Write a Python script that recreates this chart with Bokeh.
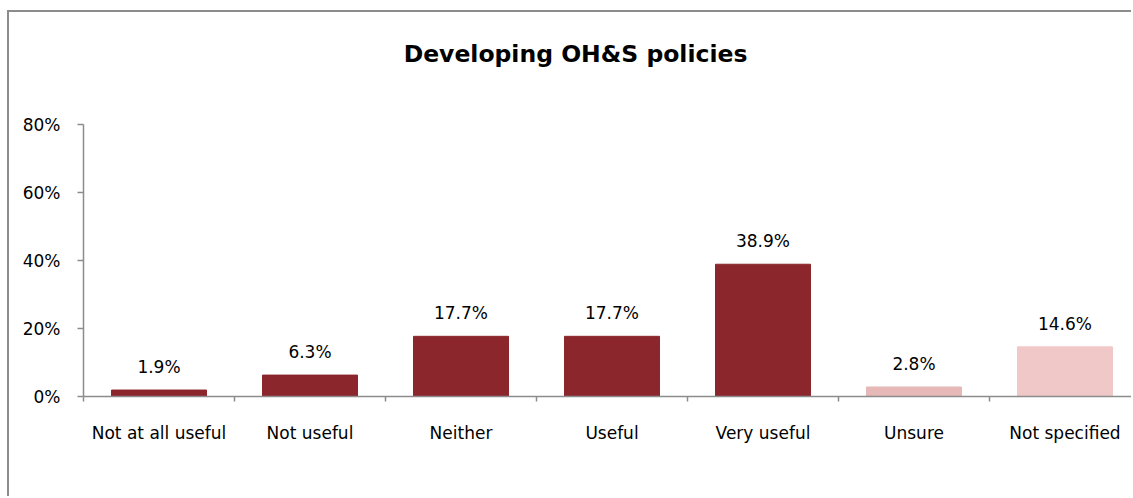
from bokeh.plotting import figure
from bokeh.models import (ColumnDataSource, FixedTicker, LabelSet, Label,
                          Range1d, NumeralTickFormatter)
from bokeh.core.properties import value
from bokeh.embed import file_html
from bokeh.resources import INLINE

# ---- data ----
title = "Developing OH&S policies"
categories = ["Not at all useful", "Not useful", "Neither", "Useful",
              "Very useful", "Unsure", "Not specified"]
values = [1.9, 6.3, 17.7, 17.7, 38.9, 2.8, 14.6]
bar_colors = ["#8B262C", "#8B262C", "#8B262C", "#8B262C", "#8B262C",
              "#E6B9B8", "#F0C8C8"]
y_ticks = [0, 20, 40, 60, 80]

FONT = "DejaVu Sans"
FS = "17px"
OX, OY = 9, 12          # canvas origin on page (after CSS margin + border)
W, H = 1133 - OX, 498 - OY
CAT_PX = 151.0
Y0_PAGE, Y80_PAGE = 396, 124
PX_PER_PCT = (Y0_PAGE - Y80_PAGE) / 80.0
LEFT = 83 - OX
BOTTOM = H - (Y0_PAGE - OY)
FRAME_H = H - BOTTOM
y_end = FRAME_H / PX_PER_PCT

n = len(categories)
centers = [i + 0.5 for i in range(n)]
bounds = list(range(n + 1))
labels = [f"{v:.1f}%" for v in values]

src = ColumnDataSource(dict(x=centers, top=values, color=bar_colors, label=labels))

x_end = (W - LEFT) / CAT_PX
p = figure(width=W, height=H, output_backend="svg", toolbar_location=None,
           x_range=Range1d(0, x_end), y_range=Range1d(0, y_end),
           min_border_left=LEFT, min_border_right=0,
           min_border_top=0, min_border_bottom=BOTTOM)
p.styles = {"margin-left": "7px", "margin-top": "10px",
            "border-left": "2px solid #8C8C8C",
            "border-top": "2px solid #8C8C8C"}
p.xgrid.visible = False
p.ygrid.visible = False
p.outline_line_color = None
p.background_fill_color = "white"
p.border_fill_color = "white"

p.vbar(x="x", top="top", width=95 / CAT_PX, color="color", source=src)

AX = "#8C8C8C"
# x axis
xa = p.xaxis[0]
xa.ticker = FixedTicker(ticks=centers, minor_ticks=bounds)
xa.major_label_overrides = {c: lab for c, lab in zip(centers, categories)}
xa.major_tick_out = 0
xa.major_tick_in = 0
xa.minor_tick_out = 5
xa.minor_tick_in = 0
xa.minor_tick_line_color = AX
xa.minor_tick_line_width = 1.5
xa.axis_line_color = AX
xa.axis_line_width = 1.5
xa.major_label_standoff = 21
xa.major_label_text_font = FONT
xa.major_label_text_font_size = FS
xa.major_label_text_color = "black"

# y axis
ya = p.yaxis[0]
ya.ticker = FixedTicker(ticks=y_ticks)
ya.formatter = NumeralTickFormatter(format="0")
ya.major_label_overrides = {t: f"{t}%" for t in y_ticks}
ya.bounds = (y_ticks[0], y_ticks[-1])
ya.major_tick_out = 6
ya.major_tick_in = 0
ya.minor_tick_out = 0
ya.minor_tick_in = 0
ya.major_tick_line_color = AX
ya.major_tick_line_width = 1.5
ya.axis_line_color = AX
ya.axis_line_width = 1.5
ya.major_label_standoff = 17
ya.major_label_text_font = FONT
ya.major_label_text_font_size = FS
ya.major_label_text_color = "black"

# value labels
p.add_layout(LabelSet(x="x", y="top", text="label", source=src,
                      text_align="center", text_baseline="alphabetic",
                      y_offset=17, text_font=value(FONT),
                      text_font_size=value(FS), text_color="black"))

# chart title (inside the frame, above the 80% bound of the y axis)
p.add_layout(Label(x=(575 - 83) / CAT_PX, y=(Y0_PAGE - 53) / PX_PER_PCT,
                   text=title, text_align="center", text_baseline="middle",
                   text_font=FONT, text_font_style="bold",
                   text_font_size="23.5px", text_color="black"))

open("out.html", "w").write(file_html(p, INLINE))
